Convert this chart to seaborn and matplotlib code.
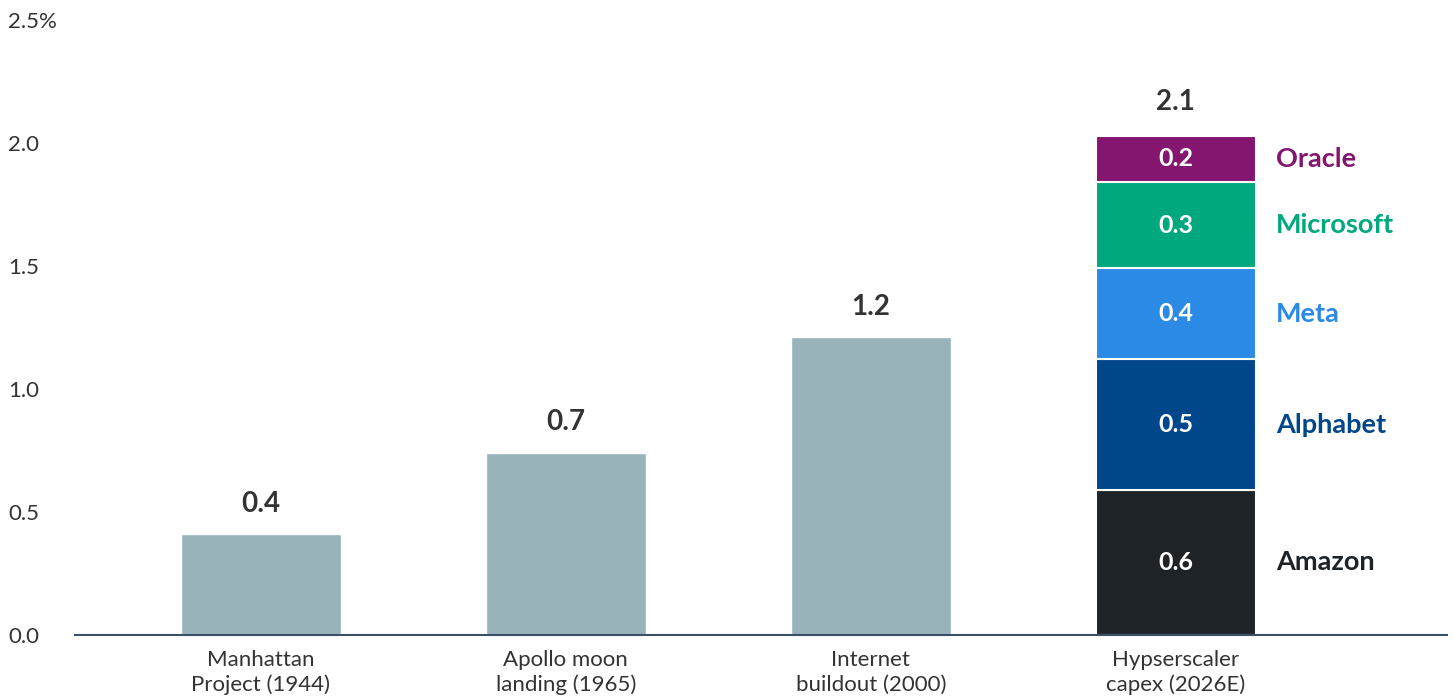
import matplotlib
matplotlib.use("Agg")
import matplotlib.pyplot as plt
import seaborn as sns
import pandas as pd
import numpy as np

# ---- data ----
categories = ["Manhattan\nProject (1944)", "Apollo moon\nlanding (1965)",
              "Internet\nbuildout (2000)", "Hypserscaler\ncapex (2026E)"]
hist_values = [0.41, 0.74, 1.21]
hist_labels = ["0.4", "0.7", "1.2"]

companies = ["Amazon", "Alphabet", "Meta", "Microsoft", "Oracle"]
company_values = [0.59, 0.53, 0.37, 0.35, 0.19]
company_labels = ["0.6", "0.5", "0.4", "0.3", "0.2"]
company_colors = ["#1D2326", "#00468B", "#2B8AE6", "#00A87E", "#84166F"]
total_label = "2.1"

yticks = [0.0, 0.5, 1.0, 1.5, 2.0, 2.5]
ytick_labels = ["0.0", "0.5", "1.0", "1.5", "2.0", "2.5%"]

grey = "#98B4BA"
text_dark = "#333333"

sns.set_theme(style="white")
plt.rcParams["font.family"] = ["Lato", "DejaVu Sans"]

fig = plt.figure(figsize=(14.53, 6.96), dpi=100)
ax = fig.add_axes([75 / 1453, 61 / 696, 1372 / 1453, 615 / 696])

df = pd.DataFrame({"category": categories[:3], "value": hist_values})
sns.barplot(data=df, x="category", y="value", order=categories, color=grey,
            width=0.525, saturation=1, ax=ax)

for i, (v, lab) in enumerate(zip(hist_values, hist_labels)):
    ax.annotate(lab, (i, v), xytext=(0, 22), textcoords="offset points",
                ha="center", va="center", fontsize=20, fontweight="bold",
                color=text_dark)

# stacked bar
bottom = 0.0
xi = 3
for name, v, lab, c in zip(companies, company_values, company_labels, company_colors):
    ax.bar(xi, v, width=0.525, bottom=bottom, color=c, edgecolor="white",
           linewidth=1.5)
    ax.text(xi, bottom + v / 2, lab, ha="center", va="center", fontsize=18,
            fontweight="bold", color="white")
    ax.text(xi + 0.33, bottom + v / 2, name, ha="left", va="center",
            fontsize=19.5, fontweight="bold", color=c)
    bottom += v
ax.annotate(total_label, (xi, bottom), xytext=(0, 24), textcoords="offset points",
            ha="center", va="center", fontsize=20, fontweight="bold",
            color=text_dark)

ax.set_xlim(-0.61, 3.89)
ax.set_ylim(0, 2.5)
ax.set_yticks(yticks)
ax.set_yticklabels(ytick_labels)
ax.set_xlabel("")
ax.set_ylabel("")
for s in ["top", "right", "left"]:
    ax.spines[s].set_visible(False)
ax.spines["bottom"].set_color("#3D4F66")
ax.spines["bottom"].set_linewidth(1.5)
ax.tick_params(axis="y", length=0, pad=48, labelsize=16, labelcolor=text_dark)
for t in ax.get_yticklabels():
    t.set_horizontalalignment("left")
ax.tick_params(axis="x", length=0, pad=10.5, labelsize=16, labelcolor=text_dark)
for t in ax.get_xticklabels():
    t.set_linespacing(1.3)

fig.savefig("out.png", dpi=100)
